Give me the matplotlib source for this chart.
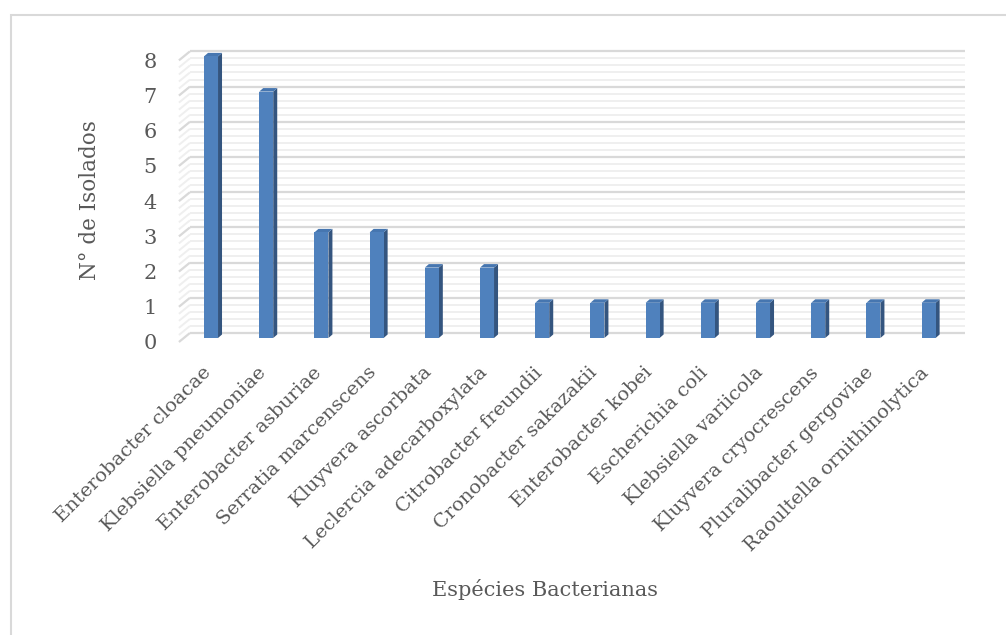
import matplotlib
matplotlib.use("Agg")
import matplotlib.pyplot as plt
from matplotlib.patches import Polygon, Rectangle
import numpy as np

# Bacterial species and number of isolates
species = [
    "Enterobacter cloacae",
    "Klebsiella pneumoniae",
    "Enterobacter asburiae",
    "Serratia marcenscens",
    "Kluyvera ascorbata",
    "Leclercia adecarboxylata",
    "Citrobacter freundii",
    "Cronobacter sakazakii",
    "Enterobacter kobei",
    "Escherichia coli",
    "Klebsiella variicola",
    "Kluyvera cryocrescens",
    "Pluralibacter gergoviae",
    "Raoultella ornithinolytica",
]
isolates = [8, 7, 3, 3, 2, 2, 1, 1, 1, 1, 1, 1, 1, 1]
y_ticks = [0, 1, 2, 3, 4, 5, 6, 7, 8]

TEXT = "#595959"
FONT = "DejaVu Serif"
FRONT = "#4f81bd"
SIDE = "#34557f"
TOP = "#4676b0"
MAJOR = "#d9d9d9"
MINOR = "#efefef"

W, H = 1006, 635
fig = plt.figure(figsize=(W / 100, H / 100), dpi=100)
fig.patch.set_facecolor("white")

# chart frame (top and left edges visible)
fig.patches.append(Rectangle((11 / W, -0.2), 1.2, 1.2 - 14.5 / H,
                             transform=fig.transFigure, fill=False,
                             edgecolor="#d9d9d9", lw=1.5))

ax = fig.add_axes([0.17237, 0.45033, 0.79563, 0.47676])
ax.set_xlim(-0.6, 13.9)
ax.set_ylim(-0.2, 8.4)
for s in ax.spines.values():
    s.set_visible(False)
ax.patch.set_alpha(0)

# pseudo-3D depth offsets (in data units)
WX, WY = 0.1993, 0.2557      # back wall
BX, BY = 0.0815, 0.1136      # bar front face
DX, DY = 0.0725, 0.0994      # bar depth
bw = 0.2536
x_left, x_right = -0.5, 13.55

# back wall and side wall gridlines
levels = np.round(np.arange(0, 8.0001, 0.2), 2)
for lv in levels:
    major = abs(lv - round(lv)) < 1e-6
    col = MAJOR if major else MINOR
    lw = 1.6 if major else 1.4
    z = 2 if major else 1
    ax.plot([x_left + WX, x_right + WX], [lv + WY, lv + WY], color=col, lw=lw,
            zorder=z, solid_capstyle="butt")
    ax.plot([x_left, x_left + WX], [lv, lv + WY], color=col, lw=lw, zorder=z,
            solid_capstyle="butt")

# columns
for i, v in enumerate(isolates):
    x0 = i + BX - bw / 2
    x1 = i + BX + bw / 2
    y0 = BY
    y1 = v + BY
    ax.add_patch(Polygon([(x1, y0), (x1 + DX, y0 + DY), (x1 + DX, y1 + DY), (x1, y1)],
                         closed=True, facecolor=SIDE, edgecolor="none", zorder=5))
    ax.add_patch(Polygon([(x0, y1), (x1, y1), (x1 + DX, y1 + DY), (x0 + DX, y1 + DY)],
                         closed=True, facecolor=TOP, edgecolor="none", zorder=5))
    ax.add_patch(Rectangle((x0, y0), bw, v, facecolor=FRONT, edgecolor="none", zorder=6))

# axes tick labels
ax.set_yticks(y_ticks)
ax.set_yticklabels([str(t) for t in y_ticks], fontfamily=FONT, fontsize=15, color=TEXT)
ax.tick_params(axis="y", length=0, pad=12)
ax.set_xticks([i + BX - 0.05 for i in range(len(species))])
ax.set_xticklabels(species, rotation=45, ha="right", va="center", rotation_mode="anchor",
                   fontfamily=FONT, fontsize=14, color=TEXT)
ax.tick_params(axis="x", length=0, pad=15)

fig.text(545 / W, 1 - 590 / H, "Espécies Bacterianas", ha="center", va="center",
         fontfamily=FONT, fontsize=15, color=TEXT)
fig.text(90 / W, 1 - 200 / H, "N° de Isolados", ha="center", va="center", rotation=90,
         fontfamily=FONT, fontsize=15.5, color=TEXT)

fig.savefig("out.png", dpi=100, facecolor="white")
